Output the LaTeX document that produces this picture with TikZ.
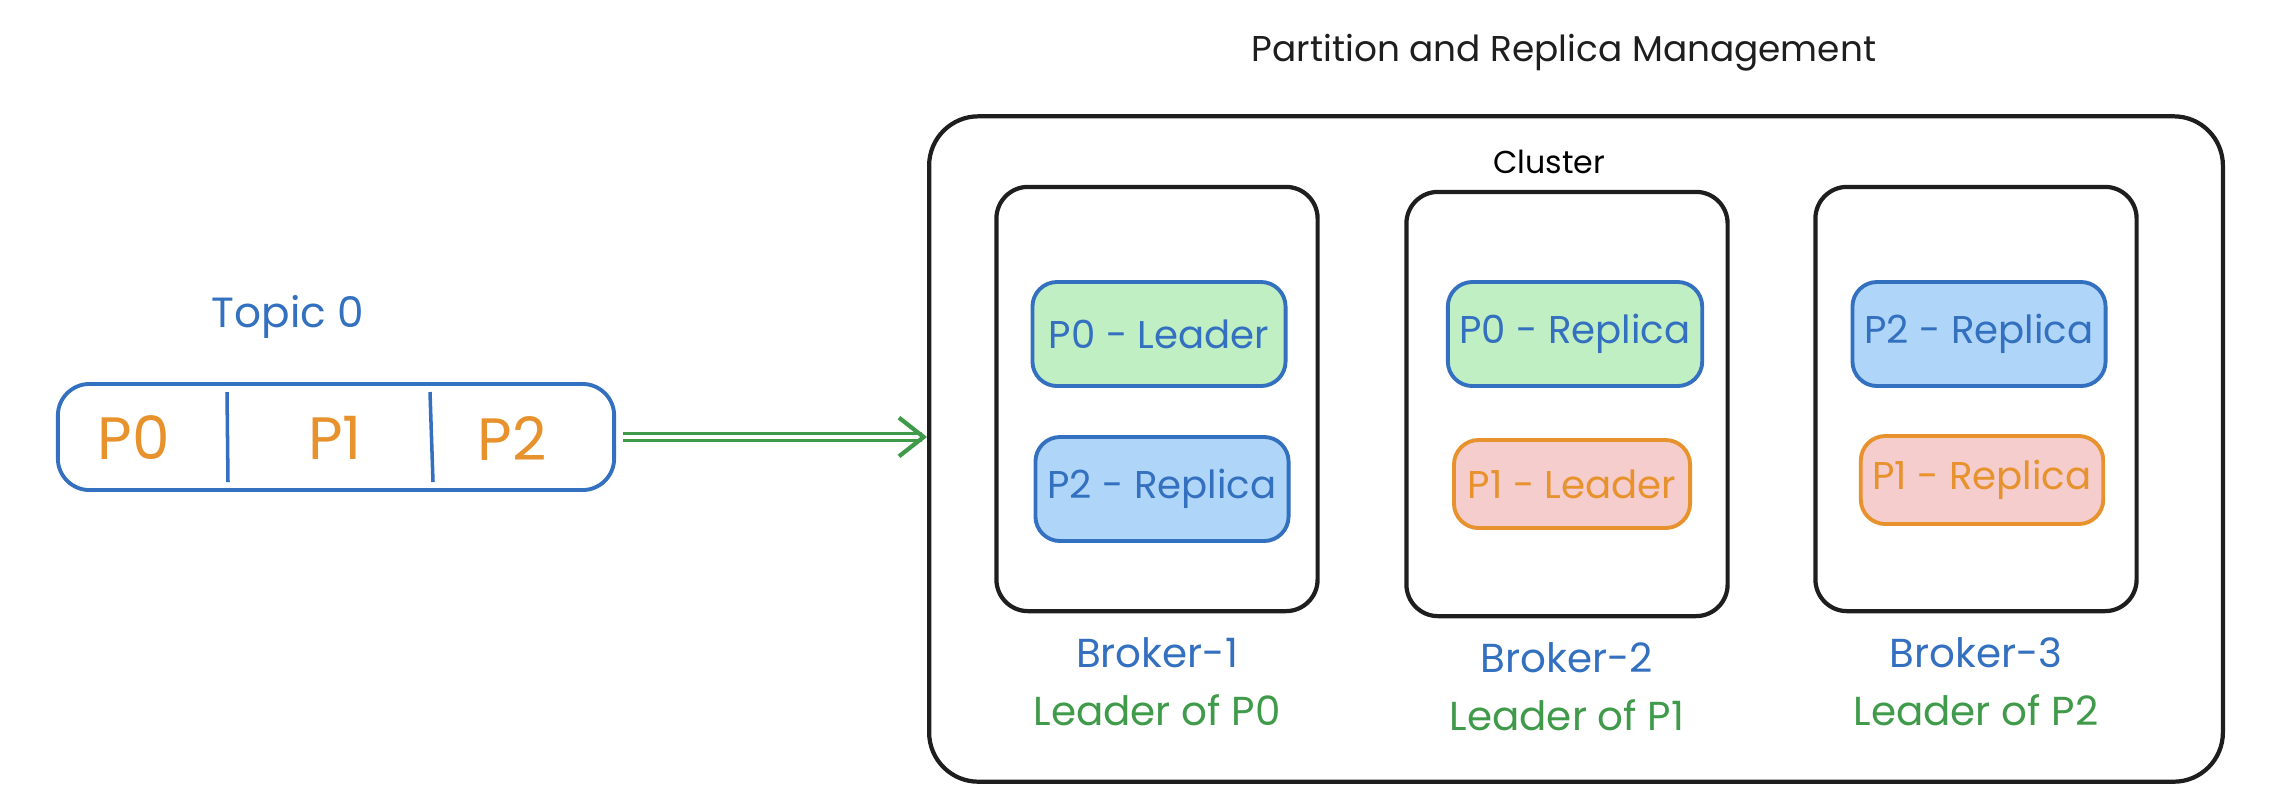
\documentclass[tikz,border=0pt]{standalone}
\usepackage{fontspec}
\setmainfont{Poppins}
\usetikzlibrary{arrows.meta,positioning,calc}
\definecolor{Ink}{HTML}{1E1E1E}
\definecolor{Blue}{HTML}{3470C0}
\definecolor{BlueF}{HTML}{AFD6F8}
\definecolor{GreenF}{HTML}{C0EFC4}
\definecolor{RedF}{HTML}{F5CDCC}
\definecolor{Amber}{HTML}{E8922E}
\definecolor{Green}{HTML}{3F9A4A}

\begin{document}
\begin{tikzpicture}[
  x=0.01cm, y=-0.01cm,
  font=\fontsize{11}{13}\selectfont,
  box/.style={draw=Ink, line width=1.2pt, rounded corners=9pt},
  brk/.style={box, minimum width=3.21cm, minimum height=4.24cm},
  part/.style={draw=Blue, fill=GreenF, line width=1.1pt, rounded corners=7pt,
    minimum width=2.53cm, minimum height=1.04cm, text=Blue},
  lead/.style={part, draw=Amber, fill=RedF, text=Amber, minimum width=2.36cm,
    minimum height=0.88cm},
  bname/.style={text=Blue, font=\fontsize{11.5}{13}\selectfont},
  bnote/.style={text=Green, font=\fontsize{11.5}{13}\selectfont},
  ptxt/.style={text=Amber, font=\fontsize{17}{19}\selectfont},
  flow/.style={draw=Green, line width=0.7pt, double=white, double distance=1.3pt,
    -{Straight Barb[length=7pt, width=11pt, line width=1.2pt]}},
]
  \useasboundingbox (0,0) rectangle (2292,796);

  \node[font=\fontsize{10.2}{12}\selectfont, text=Ink] (title) at (1564,53) {Partition and Replica Management};
  \node[box, rounded corners=14pt, minimum width=12.93cm, minimum height=6.65cm] (cluster) at (1576,449) {};
  \node[font=\fontsize{9}{11}\selectfont] (clbl) at (1549,162) {Cluster};

  \node[brk] (b1) at (1157,399) {};
  \node[brk] (b2) at (1567,404) {};
  \node[brk] (b3) at (1976,399) {};

  \node[part] (b1p0) at (1159,334) {P0 - Leader};
  \node[part, fill=BlueF] (b1p2) at (1162,489) {P2 - Replica};
  \node[part] (b2p0) at (1575,334) {P0 - Replica};
  \node[lead] (b2p1) at (1572,484) {P1 - Leader};
  \node[part, fill=BlueF] (b3p2) at (1979,334) {P2 - Replica};
  \node[lead] (b3p1) at (1982,480) {P1 - Replica};

  \node[bname, below=0.12cm of b1] (b1name) {Broker-1};
  \node[bnote, below=0.02cm of b1name] (b1note) {Leader of P0};
  \node[bname, below=0.12cm of b2] (b2name) {Broker-2};
  \node[bnote, below=0.02cm of b2name] (b2note) {Leader of P1};
  \node[bname, below=0.12cm of b3] (b3name) {Broker-3};
  \node[bnote, below=0.02cm of b3name] (b3note) {Leader of P2};

  \node[draw=Blue, line width=1.1pt, rounded corners=9pt, minimum width=5.56cm,
    minimum height=1.06cm] (topic) at (336,437) {};
  \node[bname, font=\fontsize{12}{14}\selectfont] (tname) at (288,317) {Topic 0};
  \node[ptxt] (tp0) at (134,438) {P0};
  \node[ptxt] (tp1) at (335,438) {P1};
  \node[ptxt] (tp2) at (512,438) {P2};
  \draw[Blue, line width=1pt] (227,392) -- (228,482);
  \draw[Blue, line width=1pt] (430,392) -- (433,482);

  \draw[flow] ([xshift=0.07cm]topic.east) -- (topic.east -| cluster.west);
\end{tikzpicture}
\end{document}
